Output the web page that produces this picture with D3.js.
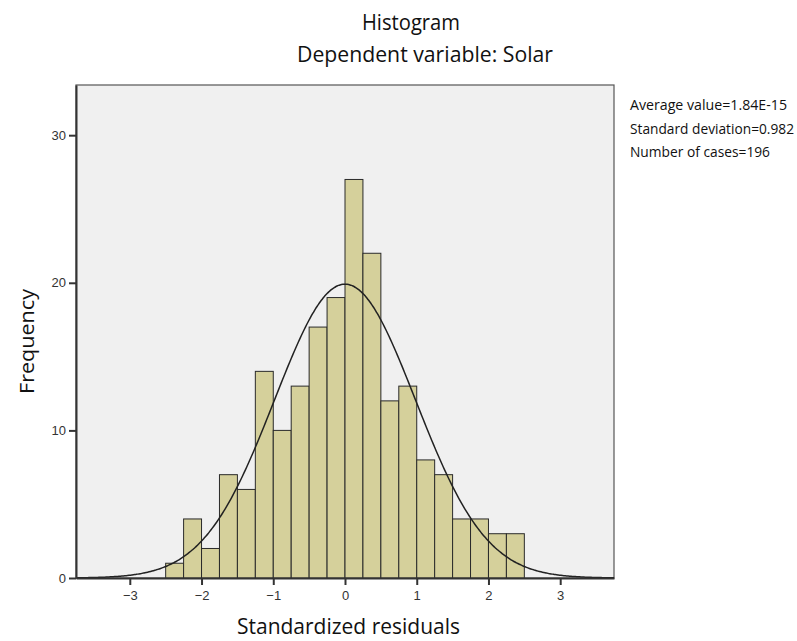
<!DOCTYPE html>
<html><head><meta charset="utf-8">
<script src="https://cdn.jsdelivr.net/npm/d3@7"></script>
<style>body{margin:0;background:#fff;} svg{display:block;}</style>
</head><body>
<script>
// Data
const binStarts = [-2.5,-2.25,-2.0,-1.75,-1.5,-1.25,-1.0,-0.75,-0.5,-0.25,0,0.25,0.5,0.75,1.0,1.25,1.5,1.75,2.0,2.25];
const counts    = [1,4,2,7,6,14,10,13,17,19,27,22,12,13,8,7,4,4,3,3];
const binWidth = 0.25;
const meanVal = 1.84e-15, sdVal = 0.982, nCases = 196;
const xTicks = [-3,-2,-1,0,1,2,3];
const yTicks = [0,10,20,30];
const legendLines = ["Average value=1.84E-15","Standard deviation=0.982","Number of cases=196"];
const legendWidths = [157,164,140];

const W=797,H=641;
const svg=d3.select("body").append("svg").attr("width",W).attr("height",H);
const m={l:76,r:614,t:85,b:578};
const x=d3.scaleLinear().domain([-3.75,3.75]).range([m.l,m.r]);
const y=d3.scaleLinear().domain([0,33.4]).range([m.b,m.t]);

svg.append("rect").attr("x",m.l).attr("y",m.t).attr("width",m.r-m.l).attr("height",m.b-m.t)
  .attr("fill","#f0f0f0").attr("stroke","#555").attr("stroke-width",1.2);

svg.append("g").selectAll("rect").data(binStarts).join("rect")
  .attr("x",d=>x(d)).attr("width",d=>x(d+binWidth)-x(d))
  .attr("y",(d,i)=>y(counts[i])).attr("height",(d,i)=>y(0)-y(counts[i]))
  .attr("fill","#d5d09b").attr("stroke","#2a2a2a").attr("stroke-width",1);

const pts=d3.range(-3.75,3.7501,0.02);
const dens=v=>nCases*binWidth/(sdVal*Math.sqrt(2*Math.PI))*Math.exp(-0.5*((v-meanVal)/sdVal)**2);
svg.append("path").datum(pts).attr("fill","none").attr("stroke","#222").attr("stroke-width",1.5)
  .attr("d",d3.line().x(d=>x(d)).y(d=>y(dens(d))).curve(d3.curveBasis));

const xa=svg.append("g").attr("transform",`translate(0,${m.b})`)
  .call(d3.axisBottom(x).tickValues(xTicks).tickSize(7).tickSizeOuter(0).tickPadding(6).tickFormat(d3.format("d")));
const ya=svg.append("g").attr("transform",`translate(${m.l},0)`)
  .call(d3.axisLeft(y).tickValues(yTicks).tickSize(7).tickSizeOuter(0).tickPadding(3).tickFormat(d3.format("d")));
[xa,ya].forEach(a=>{
  a.select(".domain").attr("stroke","#333").attr("stroke-width",2);
  a.selectAll(".tick line").attr("stroke","#333").attr("stroke-width",2);
  a.selectAll(".tick text").attr("font-family","Liberation Sans, Arial, sans-serif").attr("font-size",13).attr("fill","#333");
});

const tf="'Open Sans',sans-serif";
function t(xp,yp,str,size,len){
  return svg.append("text").attr("x",xp).attr("y",yp).attr("font-family",tf).attr("font-size",size)
    .attr("font-weight",500).attr("fill","#111").attr("textLength",len).attr("lengthAdjust","spacingAndGlyphs").text(str);
}
t(362,30,"Histogram",22,98);
t(297,62,"Dependent variable: Solar",21,256);
t(237,634,"Standardized residuals",21,223);
svg.append("text").attr("transform","translate(34,394) rotate(-90)").attr("font-family",tf).attr("font-size",20)
  .attr("font-weight",500).attr("fill","#111").attr("textLength",105).attr("lengthAdjust","spacingAndGlyphs").text("Frequency");
svg.append("g").selectAll("text").data(legendLines).join("text")
  .attr("x",630).attr("y",(d,i)=>110+i*23.5).attr("font-family",tf).attr("font-size",14).attr("font-weight",500)
  .attr("fill","#111").attr("textLength",(d,i)=>legendWidths[i]).attr("lengthAdjust","spacingAndGlyphs").text(d=>d);
</script>
</body></html>
